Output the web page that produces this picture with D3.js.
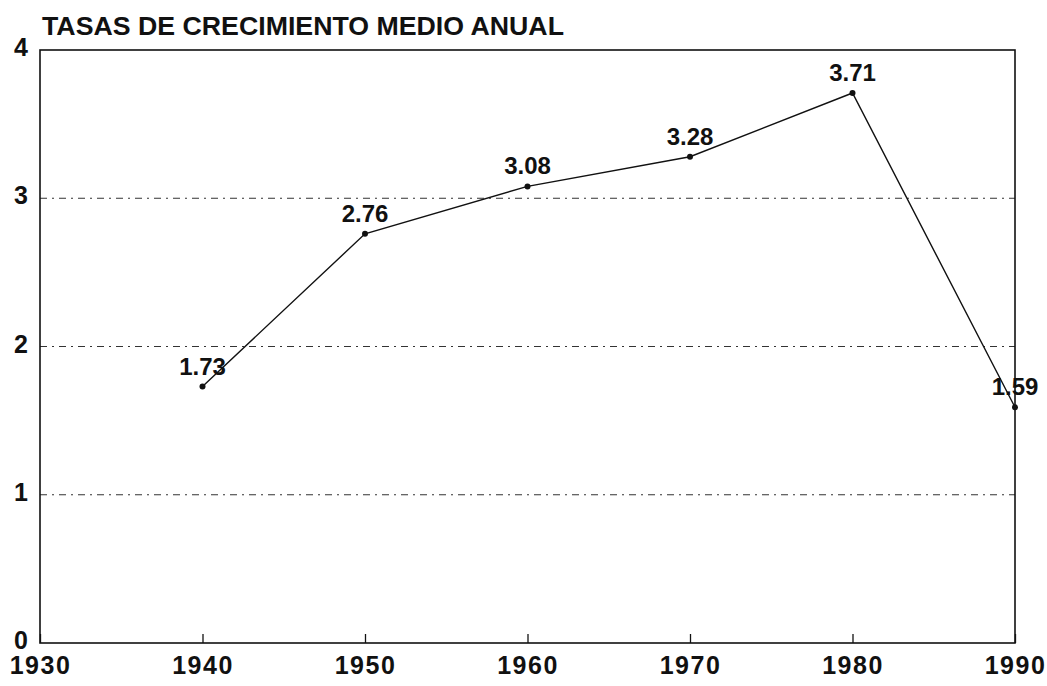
<!DOCTYPE html>
<html>
<head>
<meta charset="utf-8">
<script src="https://cdn.jsdelivr.net/npm/d3@7"></script>
<style>
  body { margin: 0; background: #fff; }
  svg { display: block; }
  text { font-family: "Liberation Sans", Arial, sans-serif; fill: #111; }
</style>
</head>
<body>
<svg id="chart" width="1047" height="686"></svg>
<script>
const years = [1940, 1950, 1960, 1970, 1980, 1990];
const rates = [1.73, 2.76, 3.08, 3.28, 3.71, 1.59];
const xTicks = [1930, 1940, 1950, 1960, 1970, 1980, 1990];
const yTicks = [0, 1, 2, 3, 4];
const title = "TASAS DE CRECIMIENTO MEDIO ANUAL";

const plotLeft = 40, plotRight = 1015, plotTop = 50, plotBottom = 643;

const svg = d3.select("#chart");

const x = d3.scaleLinear().domain([1930, 1990]).range([plotLeft, plotRight]);
const y = d3.scaleLinear().domain([0, 4]).range([plotBottom, plotTop]);

// title
svg.append("text")
  .attr("x", 42)
  .attr("y", 35)
  .attr("font-size", 25)
  .attr("font-weight", "bold")
  .attr("textLength", 522)
  .attr("lengthAdjust", "spacingAndGlyphs")
  .text(title);

// grid lines at 1, 2, 3
svg.append("g")
  .selectAll("line")
  .data(yTicks.filter(d => d > 0 && d < 4))
  .join("line")
  .attr("x1", plotLeft)
  .attr("x2", plotRight)
  .attr("y1", d => y(d))
  .attr("y2", d => y(d))
  .attr("stroke", "#333")
  .attr("stroke-width", 1)
  .attr("stroke-dasharray", "7,5,2,5");

// frame
svg.append("rect")
  .attr("x", plotLeft)
  .attr("y", plotTop)
  .attr("width", plotRight - plotLeft)
  .attr("height", plotBottom - plotTop)
  .attr("fill", "none")
  .attr("stroke", "#111")
  .attr("stroke-width", 1.6);

// x axis, ticks inward, labels below
const xAxis = d3.axisBottom(x)
  .tickValues(xTicks)
  .tickSize(-9)
  .tickFormat(d3.format("d"))
  .tickPadding(13);

const gx = svg.append("g")
  .attr("transform", `translate(0,${plotBottom})`)
  .call(xAxis);
gx.select(".domain").remove();
gx.selectAll(".tick line").attr("stroke", "#111").attr("stroke-width", 1.3);
gx.selectAll(".tick text")
  .attr("font-size", 25)
  .attr("font-weight", "bold")
  .attr("letter-spacing", 1.5)
  .attr("fill", "#111")
  .attr("font-family", "Liberation Sans, Arial, sans-serif");

// y axis labels
const yAxis = d3.axisLeft(y)
  .tickValues(yTicks)
  .tickSize(0)
  .tickFormat(d3.format("d"))
  .tickPadding(12);

const gy = svg.append("g")
  .attr("transform", `translate(${plotLeft},0)`)
  .call(yAxis);
gy.select(".domain").remove();
gy.selectAll(".tick text")
  .attr("font-size", 25)
  .attr("font-weight", "bold")
  .attr("dy", "0.22em")
  .attr("fill", "#111")
  .attr("font-family", "Liberation Sans, Arial, sans-serif");

// line
const line = d3.line()
  .x((d, i) => x(years[i]))
  .y(d => y(d));

svg.append("path")
  .datum(rates)
  .attr("fill", "none")
  .attr("stroke", "#111")
  .attr("stroke-width", 1.4)
  .attr("d", line);

// points
svg.append("g")
  .selectAll("circle")
  .data(rates)
  .join("circle")
  .attr("cx", (d, i) => x(years[i]))
  .attr("cy", d => y(d))
  .attr("r", 3)
  .attr("fill", "#111");

// value labels
svg.append("g")
  .selectAll("text")
  .data(rates)
  .join("text")
  .attr("x", (d, i) => x(years[i]))
  .attr("y", d => y(d) - 12)
  .attr("text-anchor", "middle")
  .attr("font-size", 24)
  .attr("font-weight", "bold")
  .text(d => d3.format(".2f")(d));
</script>
</body>
</html>
